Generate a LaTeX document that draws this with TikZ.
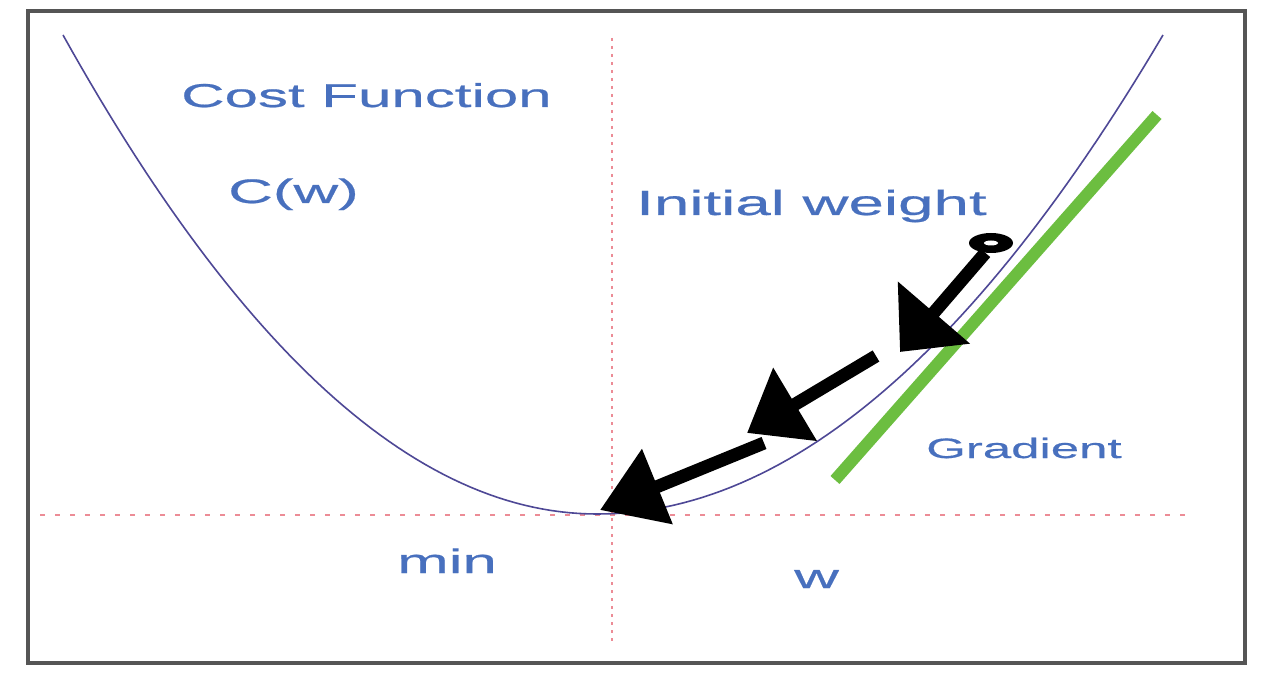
\documentclass[tikz,border=0pt]{standalone}
\usepackage{fontspec}
\setmainfont{Liberation Sans}[FakeStretch=1.82,FakeBold=0.6]
\usetikzlibrary{shapes.geometric, arrows.meta, positioning, calc}

\definecolor{lblblue}{RGB}{72,112,190}
\definecolor{curveblue}{RGB}{78,72,150}
\definecolor{gradgreen}{RGB}{108,190,64}
\definecolor{guidepink}{RGB}{236,140,150}
\definecolor{framegray}{RGB}{85,85,85}

\tikzset{
	lbl/.style={text=lblblue, inner sep=0pt, anchor=base west, font=\fontsize{#1}{#1}\selectfont},
	lbl/.default=34,
	guide/.style={guidepink, line width=2.5pt},
	steparrow/.style 2 args={line width=13pt, -{Triangle[length=#1, width=#2]}}
}

\begin{document}
\begin{tikzpicture}[x=1pt,y=-1pt]
		\useasboundingbox (0,0) rectangle (1280,676);
		\fill[white] (0,0) rectangle (1280,676);
		\draw[framegray, line width=4pt] (28,11) rectangle (1245,663);
		
		\draw[guide, dash pattern=on 5pt off 10pt] (40,515) -- (1185,515);
		\draw[guide, dash pattern=on 3pt off 5pt] (612,38) -- (612,645);
		
		% cost curve, two half parabolas
		\draw[curveblue, line width=1.6pt] plot[domain=63:597, samples=60] (\x, {514-479*((\x-597)/534)^2})
			-- plot[domain=597:1163, samples=60] (\x, {514-479*((\x-597)/566)^2});
		
		\coordinate(gradlo) at (835,480);
		\coordinate(gradhi) at (1157,115);
		\draw[gradgreen, line width=12pt] (gradlo) -- (gradhi);
		
		\node(init) at (991,243)[ellipse,fill=black,minimum width=44pt,minimum height=20pt,inner sep=0pt]{};
		\coordinate(s2) at (876,356);
		\coordinate(s3) at (764,443);
		\coordinate(t1) at (900,352);
		\coordinate(t2) at (747,433);
		\coordinate(t3) at (600,510);
		
		\draw[steparrow={52pt}{92pt}] (init.240) to (t1);
		\draw[steparrow={56pt}{82pt}] (s2) to (t2);
		\draw[steparrow={62pt}{78pt}] (s3) to (t3);
		\fill[white] (init) ellipse (7pt and 2.5pt);
		
		\node(costlbl) at (181,107)[lbl=33]{Cost Function};
		\node(cwlbl) at (228,203)[lbl]{C(w)};
		\node(initlbl) at (636,215)[lbl=35]{Initial weight};
		\node(gradlbl) at (926,458)[lbl=28]{Gradient};
		\node(minlbl) at (397,573)[lbl]{min};
		\node(wlbl) at (794,588)[lbl]{w};
		
	\end{tikzpicture}
\end{document}
